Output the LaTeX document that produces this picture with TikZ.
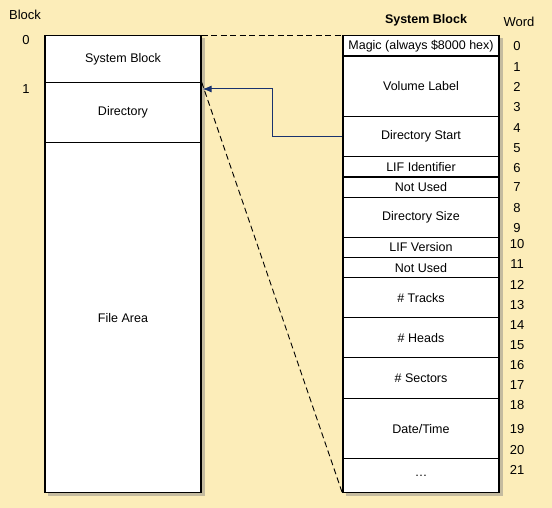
\documentclass[tikz,border=0pt]{standalone}
\usepackage{fontspec}
\setmainfont{Liberation Sans}
\usetikzlibrary{calc,arrows.meta}
\definecolor{bgyellow}{RGB}{252,237,185}
\definecolor{arrowblue}{RGB}{25,50,110}
\tikzset{
  cell/.style={draw=black, line width=1.2pt, fill=white, minimum width=156pt, inner sep=0pt, font=\fontsize{12.5}{14}\selectfont, anchor=north},
  lbl/.style={font=\fontsize{13}{15}\selectfont, inner sep=0pt},
  shadowbox/.style={fill=black!50, opacity=0.45},
  dashconn/.style={line width=0.9pt, dash pattern=on 6pt off 3.5pt},
  blueconn/.style={draw=arrowblue, line width=1pt, -{Latex[length=9pt,width=7pt]}}
}
\begin{document}
\begin{tikzpicture}[x=1pt,y=-1pt]
\fill[bgyellow] (0,0) rectangle (552,508);
\useasboundingbox (0,0) rectangle (552,508);
% shadows
\fill[shadowbox] (48,38) rectangle (205,496);
\fill[shadowbox] (346,38) rectangle (503,496);
% left column
\node[cell, minimum height=47pt] (sys) at (123,35) {System Block};
\node[cell, minimum height=60pt] (dir) at (123,82) {Directory};
\node[cell, minimum height=350pt] (file) at (123,142) {File Area};
% right column
\node[cell, minimum height=20.5pt] (magic) at (421,35) {Magic (always \$8000 hex)};
\node[cell, minimum height=60.2pt] (vol) at (421,55.5) {Volume Label};
\node[cell, minimum height=40.3pt] (dstart) at (421,115.7) {Directory Start};
\node[cell, minimum height=20.5pt] (lifid) at (421,156) {LIF Identifier};
\node[cell, minimum height=20.2pt] (nu1) at (421,176.5) {Not Used};
\node[cell, minimum height=40pt] (dsize) at (421,196.7) {Directory Size};
\node[cell, minimum height=20.3pt] (lifver) at (421,236.7) {LIF Version};
\node[cell, minimum height=20pt] (nu2) at (421,257) {Not Used};
\node[cell, minimum height=40pt] (tracks) at (421,277) {\# Tracks};
\node[cell, minimum height=40pt] (heads) at (421,317) {\# Heads};
\node[cell, minimum height=41pt] (sectors) at (421,357) {\# Sectors};
\node[cell, minimum height=60pt] (datetime) at (421,398) {Date/Time};
\node[cell, minimum height=34pt] (etc) at (421,458) {\dots};
% headings
\node[lbl] (blockhd) at (25,15) {Block};
\node[lbl] (b0) at (26,40) {0};
\node[lbl] (b1) at (26,89) {1};
\node[lbl, font=\fontsize{12.5}{14}\selectfont\bfseries] (sbhd) at (426,20) {System Block};
\node[lbl] (wordhd) at (519,22) {Word};
\foreach \n/\y in {0/46,1/67,2/87,3/107,4/128,5/148,6/168,7/187,8/208,9/228,10/244,11/264,12/285,13/305,14/325,15/345,16/365,17/385,18/405,19/429,20/450,21/470}
  \node[lbl] (w\n) at (517,\y) {\n};
% connectors
\draw[dashconn] (sys.north east) -- (magic.north west);
\draw[dashconn] (dir.north east) -- (etc.south west);
\draw[blueconn] (dstart.west) -- ++(-70,0) |- ($(dir.north east)+(1,7)$);
\end{tikzpicture}
\end{document}
